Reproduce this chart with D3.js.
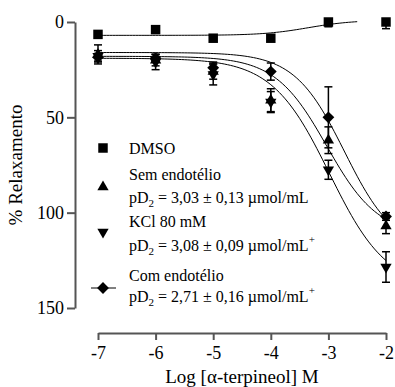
<!DOCTYPE html>
<html>
<head>
<meta charset="utf-8">
<script src="https://cdn.jsdelivr.net/npm/d3@7"></script>
<style>
  body { margin: 0; background: #fff; }
</style>
</head>
<body>
<div id="chart"></div>
<script>
// valores
const logConc = [-7, -6, -5, -4, -3, -2];
const yTicks = [0, 50, 100, 150];
const xTicks = [-7, -6, -5, -4, -3, -2];

const dmso = [6.5, 4, 8.5, 8.5, 0, 0];
const dmsoSem = [0, 0, 0, 0, 2.5, 3.5];
const semEnd = [17, 20, 26, 41, 62, 107];
const semEndSem = [5, 3, 4, 6, 7, 4];
const kcl = [18, 21, 27.5, 42, 77.5, 128.5];
const kclSem = [3, 4, 5.5, 5.5, 5, 8];
const comEnd = [18.5, 19, 24, 26, 50, 102];
const comEndSem = [2, 2, 3, 4.5, 16, 2];

// ajuste sigmoidal: [base, topo, logEC50, hill]
const dmsoFit = [7, -1, -3.35, 1.1];
const semEndFit = [18, 112, -3.03, 0.97];
const kclFit = [19, 140, -2.98, 0.87];
const comEndFit = [16, 120, -2.72, 1.0];

const W = 395, H = 387;
const serif = '"Liberation Serif"';
const svg = d3.select('#chart').append('svg').attr('width', W).attr('height', H);

const x = d3.scaleLinear().domain([-7, -2]).range([98, 386]);
const y = d3.scaleLinear().domain([0, 150]).range([22, 308]);

const axisColor = '#555';

// eixo y
const gy = svg.append('g').attr('transform', 'translate(75,0)')
    .call(d3.axisLeft(y).tickValues(yTicks).tickSize(8).tickPadding(3).tickSizeOuter(0));
// eixo x
const gx = svg.append('g').attr('transform', 'translate(0,333)')
    .call(d3.axisBottom(x).tickValues(xTicks).tickSize(7).tickPadding(6).tickSizeOuter(0)
        .tickFormat(d => d.toString().replace('\u2212', '-')));
[gx, gy].forEach(g => {
    g.select('.domain').attr('stroke', axisColor).attr('stroke-width', 2);
    g.selectAll('.tick line').attr('stroke', axisColor).attr('stroke-width', 2);
    g.selectAll('.tick text').style('font-family', serif).style('font-size', '18px').attr('fill', '#000');
});

svg.append('text').attr('transform', 'translate(22,165) rotate(-90)')
    .style('font-family', serif).style('font-size', '19px')
    .attr('text-anchor', 'middle').text('% Relaxamento');
svg.append('text').attr('x', 242).attr('y', 383)
    .style('font-family', serif).style('font-size', '19px')
    .attr('text-anchor', 'middle').text('Log [\u03b1-terpineol] M');

// curvas
function sigmoid(p) {
    return v => p[0] + (p[1] - p[0]) / (1 + Math.pow(10, (p[2] - v) * p[3]));
}
const line = d3.line().x(d => x(d[0])).y(d => y(d[1]));
function drawCurve(p, x0, x1) {
    const f = sigmoid(p);
    const pts = d3.range(x0, x1 + 1e-9, 0.05).map(v => [v, f(v)]);
    svg.append('path').datum(pts).attr('d', line)
        .attr('fill', 'none').attr('stroke', '#000').attr('stroke-width', 1);
}
drawCurve(dmsoFit, -7, -2.5);
drawCurve(semEndFit, -7, -2);
drawCurve(kclFit, -7, -2);
drawCurve(comEndFit, -7, -2);

// séries
const series = [
    {vals: dmso, sem: dmsoSem, sym: d3.symbolSquare, size: 90, rot: 0},
    {vals: comEnd, sem: comEndSem, sym: d3.symbolSquare, size: 70, rot: 45},
    {vals: semEnd, sem: semEndSem, sym: d3.symbolTriangle, size: 55, rot: 0},
    {vals: kcl, sem: kclSem, sym: d3.symbolTriangle, size: 55, rot: 180}
];

series.forEach(s => {
    const g = svg.append('g');
    logConc.forEach((c, i) => {
        const e = s.sem[i];
        if (e > 0) {
            // barras cortadas no limite do eixo (0)
            const lo = Math.max(0, s.vals[i] - e), hi = s.vals[i] + e;
            const cx = x(c), top = y(lo), bot = y(hi);
            g.append('line').attr('x1', cx).attr('x2', cx).attr('y1', top).attr('y2', bot)
                .attr('stroke', '#000').attr('stroke-width', 1.5);
            const caps = lo > 0 ? [top, bot] : [bot];
            caps.forEach(yy => g.append('line').attr('x1', cx - 4).attr('x2', cx + 4)
                .attr('y1', yy).attr('y2', yy).attr('stroke', '#000').attr('stroke-width', 1.5));
        }
    });
    g.selectAll('path').data(s.vals).join('path')
        .attr('d', d3.symbol().type(s.sym).size(s.size))
        .attr('transform', (d, i) => `translate(${x(logConc[i])},${y(d)}) rotate(${s.rot})`)
        .attr('fill', '#000');
});

// legenda
const legend = svg.append('g');
const legItems = [
    {sym: d3.symbolSquare, size: 90, rot: 0, sy: 148, line: false,
        rows: [['DMSO', 154]]},
    {sym: d3.symbolTriangle, size: 55, rot: 0, sy: 187, line: false,
        rows: [['Sem endotélio', 180], ['pD2 = 3,03 \u00b1 0,13 \u00b5mol/mL', 203]]},
    {sym: d3.symbolTriangle, size: 55, rot: 180, sy: 232, line: false,
        rows: [['KCl 80 mM', 227], ['pD2 = 3,08 \u00b1 0,09 \u00b5mol/mL+', 251]]},
    {sym: d3.symbolSquare, size: 70, rot: 45, sy: 288, line: true,
        rows: [['Com endotélio', 281], ['pD2 = 2,71 \u00b1 0,16 \u00b5mol/mL+', 302]]}
];
legItems.forEach(it => {
    if (it.line) {
        legend.append('line').attr('x1', 91).attr('x2', 116).attr('y1', it.sy).attr('y2', it.sy)
            .attr('stroke', '#000').attr('stroke-width', 1);
    }
    legend.append('path').attr('d', d3.symbol().type(it.sym).size(it.size))
        .attr('transform', `translate(103,${it.sy}) rotate(${it.rot})`).attr('fill', '#000');
    it.rows.forEach(r => {
        const t = legend.append('text').attr('x', 129).attr('y', r[1])
            .style('font-family', serif).style('font-size', '16px');
        const m = r[0].match(/^pD2( = .*?)(\+?)$/);
        if (m) {
            t.append('tspan').text('pD');
            t.append('tspan').style('font-size', '11px').attr('dy', 4).text('2');
            t.append('tspan').attr('dy', -4).text(m[1]);
            if (m[2]) t.append('tspan').style('font-size', '11px').attr('dy', -8).text('+');
        } else {
            t.text(r[0]);
        }
    });
});
</script>
</body>
</html>
